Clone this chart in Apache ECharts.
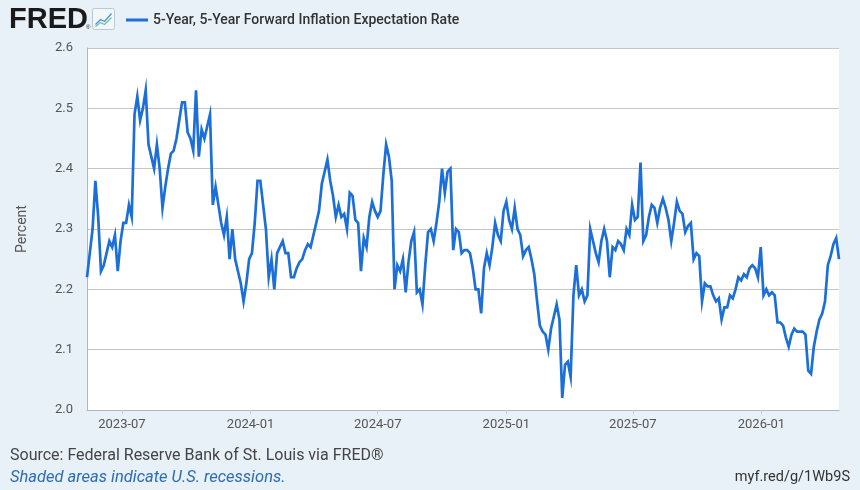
<!DOCTYPE html>
<html lang="en">
<head>
    <meta charset="UTF-8">
    <title>5-Year, 5-Year Forward Inflation Expectation Rate</title>
    <script src="https://cdn.jsdelivr.net/npm/echarts@6.0.0/dist/echarts.min.js"></script>
    <style>
        html, body { margin: 0; padding: 0; background: #e8f0f8; }
        #container { width: 860px; height: 490px; }
    </style>
</head>
<body>
<div id="container"></div>

<script type="text/javascript">
    var startDate = [2023, 4, 12];
    var stepDays = 4;
    var values = [
        2.22, 2.26, 2.30, 2.38, 2.32, 2.23, 2.24, 2.26, 2.28, 2.27,
        2.29, 2.23, 2.28, 2.31, 2.31, 2.34, 2.32, 2.49, 2.52, 2.48,
        2.50, 2.53, 2.44, 2.42, 2.40, 2.44, 2.40, 2.335, 2.37, 2.40,
        2.425, 2.43, 2.45, 2.48, 2.51, 2.51, 2.46, 2.45, 2.43, 2.53,
        2.42, 2.465, 2.45, 2.47, 2.49, 2.34, 2.37, 2.34, 2.31, 2.29,
        2.32, 2.25, 2.30, 2.25, 2.23, 2.21, 2.18, 2.21, 2.25, 2.26,
        2.31, 2.38, 2.38, 2.34, 2.30, 2.22, 2.25, 2.20, 2.26, 2.27,
        2.28, 2.26, 2.26, 2.22, 2.22, 2.235, 2.245, 2.25, 2.265, 2.275,
        2.27, 2.29, 2.31, 2.33, 2.375, 2.395, 2.415, 2.38, 2.355, 2.32,
        2.34, 2.32, 2.325, 2.30, 2.36, 2.355, 2.315, 2.31, 2.23, 2.285,
        2.27, 2.32, 2.345, 2.33, 2.32, 2.33, 2.39, 2.44, 2.42, 2.38,
        2.20, 2.24, 2.23, 2.25, 2.195, 2.245, 2.28, 2.295, 2.195, 2.20,
        2.175, 2.24, 2.295, 2.30, 2.28, 2.31, 2.345, 2.40, 2.36, 2.395,
        2.40, 2.265, 2.30, 2.295, 2.26, 2.265, 2.265, 2.26, 2.235, 2.20,
        2.20, 2.16, 2.235, 2.26, 2.24, 2.27, 2.31, 2.29, 2.28, 2.33,
        2.345, 2.315, 2.30, 2.335, 2.30, 2.29, 2.255, 2.265, 2.27, 2.25,
        2.225, 2.18, 2.14, 2.13, 2.125, 2.10, 2.135, 2.155, 2.175, 2.15,
        2.02, 2.075, 2.08, 2.055, 2.19, 2.24, 2.19, 2.20, 2.18, 2.19,
        2.30, 2.28, 2.26, 2.245, 2.28, 2.30, 2.28, 2.22, 2.27, 2.265,
        2.28, 2.275, 2.265, 2.30, 2.29, 2.34, 2.315, 2.32, 2.41, 2.28,
        2.29, 2.32, 2.34, 2.335, 2.31, 2.335, 2.35, 2.335, 2.315, 2.28,
        2.31, 2.345, 2.33, 2.325, 2.295, 2.305, 2.31, 2.25, 2.26, 2.255,
        2.18, 2.21, 2.205, 2.205, 2.19, 2.18, 2.185, 2.15, 2.17, 2.17,
        2.19, 2.185, 2.20, 2.22, 2.215, 2.225, 2.22, 2.235, 2.24, 2.235,
        2.22, 2.27, 2.19, 2.20, 2.19, 2.195, 2.19, 2.145, 2.145, 2.14,
        2.12, 2.105, 2.125, 2.135, 2.13, 2.13, 2.13, 2.125, 2.065, 2.06,
        2.105, 2.13, 2.15, 2.16, 2.18, 2.24, 2.255, 2.275, 2.285, 2.25
    ];
    var tickDates = ['2023-07-01', '2024-01-01', '2024-07-01', '2025-01-01', '2025-07-01', '2026-01-01'];
    var tickLabels = ['2023-07', '2024-01', '2024-07', '2025-01', '2025-07', '2026-01'];
    var yTicks = [2.0, 2.1, 2.2, 2.3, 2.4, 2.5, 2.6];

    var DAY = 86400000;
    var t0 = Date.UTC(startDate[0], startDate[1], startDate[2]);
    var seriesData = [];
    for (var i = 0; i < values.length; i++) {
        seriesData.push([t0 + i * stepDays * DAY, values[i]]);
    }
    var tickTimes = tickDates.map(function (d) {
        var p = d.split('-');
        return Date.UTC(+p[0], +p[1] - 1, +p[2]);
    });

    var dom = document.getElementById('container');
    var myChart = echarts.init(dom, null, {renderer: 'canvas'});

    var option = {
        backgroundColor: '#e8f0f8',
        animation: false,
        textStyle: {fontFamily: 'Roboto, "Noto Sans", sans-serif'},
        grid: {
            left: 87, right: 21, top: 48, bottom: 80,
            show: true, backgroundColor: '#ffffff', borderWidth: 0
        },
        legend: {
            left: 121, top: 8,
            icon: 'rect', itemWidth: 22, itemHeight: 3, itemGap: 6,
            textStyle: {fontSize: 14, fontWeight: 500, color: '#333333'},
            data: ['5-Year, 5-Year Forward Inflation Expectation Rate']
        },
        xAxis: {
            type: 'value',
            min: t0,
            max: seriesData[seriesData.length - 1][0],
            axisLine: {show: true, lineStyle: {color: '#b5b5b5'}},
            axisTick: {show: true, customValues: tickTimes, length: 4, lineStyle: {color: '#cccccc'}},
            axisLabel: {
                customValues: tickTimes,
                color: '#555555', fontSize: 13, margin: 8,
                formatter: function (v) {
                    var idx = tickTimes.indexOf(v);
                    return idx >= 0 ? tickLabels[idx] : '';
                }
            },
            splitLine: {show: false}
        },
        yAxis: {
            type: 'value',
            min: yTicks[0], max: yTicks[yTicks.length - 1], interval: 0.1,
            name: 'Percent', nameLocation: 'middle', nameGap: 58,
            nameTextStyle: {fontSize: 14, color: '#555555'},
            axisLine: {show: true, lineStyle: {color: '#b5b5b5'}},
            axisTick: {show: false},
            axisLabel: {
                color: '#555555', fontSize: 13, margin: 14,
                formatter: function (v) { return v.toFixed(1); }
            },
            splitLine: {show: true, lineStyle: {color: '#c6c6c6', width: 1}}
        },
        graphic: [
            {
                type: 'text', left: 9, top: 5,
                style: {text: 'FRED', font: 'bold 29px "Liberation Sans", Arial, sans-serif', fill: '#1a1a1a'}
            },
            {
                type: 'text', left: 86, top: 24,
                style: {text: '®', font: '6px "Liberation Sans", Arial, sans-serif', fill: '#1a1a1a'}
            },
            {
                type: 'group', left: 92, top: 8,
                children: [
                    {type: 'rect', shape: {x: 0, y: 0, width: 22, height: 21, r: 2},
                        style: {fill: '#f4f7fa', stroke: '#b9c7d6', lineWidth: 1}},
                    {type: 'polyline', shape: {points: [[3, 16], [8, 11], [12, 13], [19, 5]]},
                        style: {stroke: '#4b8fd8', lineWidth: 1.3, fill: null}},
                    {type: 'polyline', shape: {points: [[3, 18], [8, 14], [12, 16], [19, 9]]},
                        style: {stroke: '#6cc3a0', lineWidth: 1.3, fill: null}}
                ]
            },
            {
                type: 'text', left: 10, top: 448,
                style: {text: 'Source: Federal Reserve Bank of St. Louis via FRED®',
                    font: '16px Roboto, sans-serif', fill: '#444444'}
            },
            {
                type: 'text', left: 10, top: 469,
                style: {text: 'Shaded areas indicate U.S. recessions.',
                    font: 'italic 16.5px Roboto, sans-serif', fill: '#2b6cb5'}
            },
            {
                type: 'text', right: 10, top: 470,
                style: {text: 'myf.red/g/1Wb9S', font: '14.5px Roboto, sans-serif', fill: '#333333'}
            }
        ],
        series: [
            {
                name: '5-Year, 5-Year Forward Inflation Expectation Rate',
                type: 'line',
                symbol: 'none',
                color: '#1c6fd9',
                lineStyle: {width: 2.7, color: '#1c6fd9', join: 'miter'},
                data: seriesData
            }
        ]
    };

    myChart.setOption(option);
    window.addEventListener('resize', myChart.resize);
</script>
</body>
</html>
